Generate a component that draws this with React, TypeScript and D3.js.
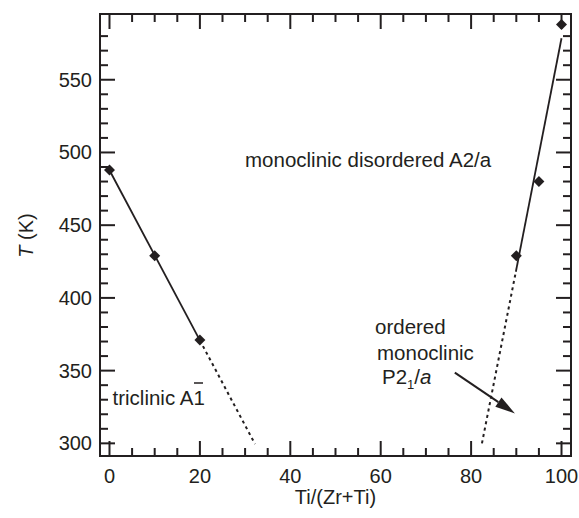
import React from "react";
import * as d3 from "d3";

// ---- data ----
const xMajorTicks = [0, 20, 40, 60, 80, 100];
const xMinorTicks = [0, 5, 10, 15, 20, 25, 30, 35, 40, 45, 50, 55, 60, 65, 70, 75, 80, 85, 90, 95, 100];
const yMajorTicks = [300, 350, 400, 450, 500, 550];
const yMinorTicks = [300, 310, 320, 330, 340, 350, 360, 370, 380, 390, 400, 410, 420, 430, 440, 450, 460, 470, 480, 490, 500, 510, 520, 530, 540, 550, 560, 570, 580];

const leftX = [0, 10, 20];
const leftT = [488, 429, 371];
const rightX = [90, 95, 100];
const rightT = [429, 480, 588];

// trend lines (solid and dotted parts)
const leftSolidX = [0, 20];
const leftSolidT = [487.8, 370.8];
const leftDotX = [20, 32.2];
const leftDotT = [370.8, 299.5];
const rightSolidX = [89.9, 100];
const rightSolidT = [418, 578.5];
const rightDotX = [82.4, 89.9];
const rightDotT = [300, 418];

// arrow annotation (data coords)
const arrowX = [76.4, 89.7];
const arrowT = [348.6, 320.6];

const W = 579;
const H = 518;
const FONT = "'Liberation Sans', Arial, Helvetica, sans-serif";
const FS = 20;

export default function App() {
  const x = d3.scaleLinear().domain([-2.1, 102.1]).range([100, 571]);
  const y = d3.scaleLinear().domain([291.3, 595.2]).range([456, 14]);
  const [x0, x1] = x.range();
  const [y0, y1] = y.range();

  const line = d3
    .line<[number, number]>()
    .x((d) => x(d[0]))
    .y((d) => y(d[1]));
  const pts = (xs: number[], ts: number[]) => xs.map((v, i) => [v, ts[i]] as [number, number]);

  const diamond = d3.symbol().type(d3.symbolSquare).size(60)() as string;

  const majorLen = 15;
  const minorLen = 8;

  // arrow
  const ax1 = x(arrowX[0]);
  const ay1 = y(arrowT[0]);
  const ax2 = x(arrowX[1]);
  const ay2 = y(arrowT[1]);
  const ang = Math.atan2(ay2 - ay1, ax2 - ax1);
  const hl = 20;
  const hw = 5.5;
  const bx = ax2 - hl * Math.cos(ang);
  const by = ay2 - hl * Math.sin(ang);
  const head = `M${ax2},${ay2}L${bx + hw * Math.sin(ang)},${by - hw * Math.cos(ang)}L${bx - hw * Math.sin(ang)},${by + hw * Math.cos(ang)}Z`;

  return (
    <svg width={W} height={H} style={{ position: "absolute", left: 0, top: 0, background: "#fff" }} fontFamily={FONT}>
      <rect x={0} y={0} width={W} height={H} fill="#fff" />
      {/* ticks */}
      <g stroke="#231f20" strokeWidth={2}>
        {xMinorTicks.map((t) => {
          const len = xMajorTicks.includes(t) ? majorLen : minorLen;
          return (
            <g key={"xt" + t}>
              <line x1={x(t)} x2={x(t)} y1={y0} y2={y0 - len} />
              <line x1={x(t)} x2={x(t)} y1={y1} y2={y1 + len} />
            </g>
          );
        })}
        {yMinorTicks.map((t) => {
          const len = yMajorTicks.includes(t) ? majorLen : minorLen;
          return (
            <g key={"yt" + t}>
              <line x1={x0} x2={x0 + len} y1={y(t)} y2={y(t)} />
              <line x1={x1} x2={x1 - len} y1={y(t)} y2={y(t)} />
            </g>
          );
        })}
      </g>
      <rect x={x0} y={y1} width={x1 - x0} height={y0 - y1} fill="none" stroke="#231f20" strokeWidth={2} />

      {/* tick labels */}
      <g fontSize={FS} fill="#231f20">
        {xMajorTicks.map((t) => (
          <text key={"xl" + t} x={x(t)} y={483} textAnchor="middle">
            {t}
          </text>
        ))}
        {yMajorTicks.map((t) => (
          <text key={"yl" + t} x={92} y={y(t)} dy="0.35em" textAnchor="end">
            {t}
          </text>
        ))}
      </g>

      {/* axis titles */}
      <text x={(x0 + x1) / 2} y={504} textAnchor="middle" fontSize={FS} fill="#231f20">
        Ti/(Zr+Ti)
      </text>
      <text transform={`translate(33,235.5) rotate(-90)`} textAnchor="middle" fontSize={FS} fill="#231f20">
        <tspan fontStyle="italic">T</tspan> (K)
      </text>

      {/* trend lines */}
      <g fill="none" stroke="#231f20">
        <path d={line(pts(leftSolidX, leftSolidT)) as string} strokeWidth={1.8} />
        <path d={line(pts(rightSolidX, rightSolidT)) as string} strokeWidth={1.8} />
        <path d={line(pts(leftDotX, leftDotT)) as string} strokeWidth={2} strokeDasharray="3,3.5" />
        <path d={line(pts(rightDotX, rightDotT)) as string} strokeWidth={2} strokeDasharray="3,3.5" />
      </g>

      {/* points */}
      <g fill="#231f20">
        {pts(leftX, leftT)
          .concat(pts(rightX, rightT))
          .map((d, i) => (
            <path key={"p" + i} d={diamond} transform={`translate(${x(d[0])},${y(d[1])}) rotate(45)`} />
          ))}
      </g>

      {/* arrow */}
      <line x1={ax1} y1={ay1} x2={bx} y2={by} stroke="#231f20" strokeWidth={2} />
      <path d={head} fill="#231f20" />

      {/* annotations */}
      <g fontSize={20.5} fill="#231f20">
        <text x={245} y={166.5}>monoclinic disordered A2/a</text>
        <text x={112.5} y={405}>triclinic A1</text>
        <line x1={194} x2={203} y1={383} y2={383} stroke="#231f20" strokeWidth={1.5} />
        <text x={375} y={333.5}>ordered</text>
        <text x={377} y={360}>monoclinic</text>
        <text x={382} y={383.5}>
          P2<tspan fontSize={13} dy={5}>1</tspan>
          <tspan dy={-5}>/</tspan>
          <tspan fontStyle="italic">a</tspan>
        </text>
      </g>
    </svg>
  );
}
